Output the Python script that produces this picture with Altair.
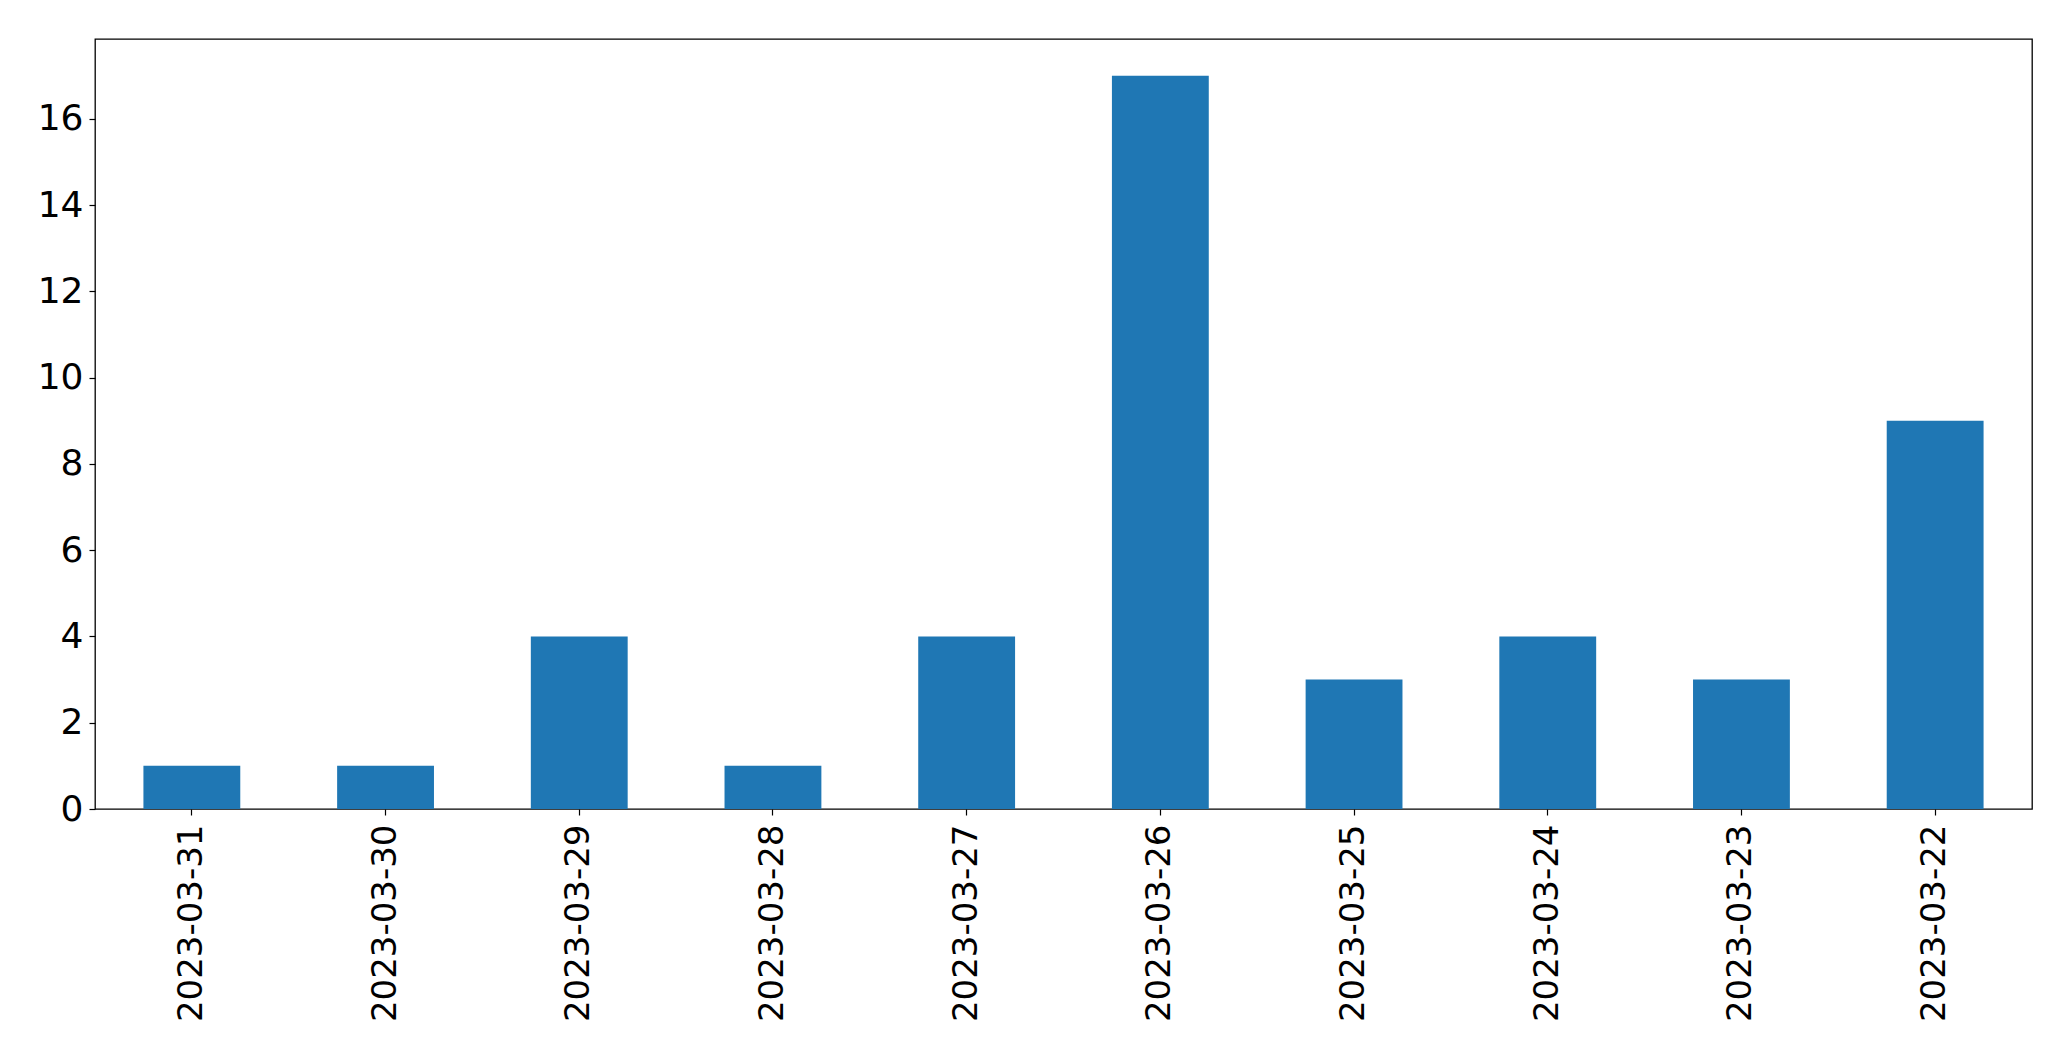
import altair as alt
import pandas as pd

dates = ["2023-03-31", "2023-03-30", "2023-03-29", "2023-03-28", "2023-03-27",
         "2023-03-26", "2023-03-25", "2023-03-24", "2023-03-23", "2023-03-22"]
counts = [1, 1, 4, 1, 4, 17, 3, 4, 3, 9]
y_ticks = [0, 2, 4, 6, 8, 10, 12, 14, 16]

df = pd.DataFrame({"date": dates, "count": counts})

FONT = "DejaVu Sans"

chart = alt.Chart(df).mark_bar(color="#1f77b4").encode(
    x=alt.X("date:N", sort=None, title=None,
            scale=alt.Scale(paddingInner=0.5, paddingOuter=0.25),
            axis=alt.Axis(labelAngle=-90, labelFontSize=34, labelFont=FONT,
                          labelColor="black", tickColor="black", tickSize=6,
                          tickWidth=1.2, labelPadding=9, domain=False,
                          grid=False, labelAlign="right", labelBaseline="middle",
                          labelLimit=1000)),
    y=alt.Y("count:Q", title=None,
            scale=alt.Scale(domain=[0, 17.85], nice=False, zero=True),
            axis=alt.Axis(values=y_ticks, labelFontSize=36, labelFont=FONT,
                          labelColor="black", tickColor="black", tickSize=6,
                          tickWidth=1.2, labelPadding=6, domain=False, grid=False,
                          labelLimit=1000)),
).properties(
    width=1937, height=770,
    autosize=alt.AutoSizeParams(type="none"),
    padding={"left": 87, "top": 31, "right": 30, "bottom": 240},
).configure(
    background="white"
).configure_view(
    stroke="black", strokeWidth=1.3
)

chart.save("out.html", embed_options={"renderer": "svg", "actions": False})
